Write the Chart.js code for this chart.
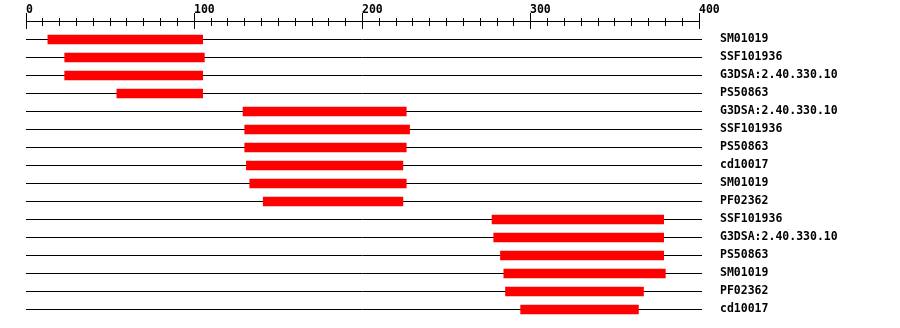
<!DOCTYPE html>
<html lang="en">
<head>
<meta charset="UTF-8">
<title>Domain map</title>
<script src="https://cdn.jsdelivr.net/npm/chart.js@4.4.7/dist/chart.umd.min.js"></script>
<style>
*{box-sizing:border-box;margin:0;padding:0}
body{background:#fff;width:900px;height:328px;overflow:hidden}
.wrap{position:relative;width:900px;height:328px}
</style>
</head>
<body>
<div class="wrap"><canvas id="chart" width="900" height="328"></canvas></div>
<script>
const domains = ['SM01019','SSF101936','G3DSA:2.40.330.10','PS50863','G3DSA:2.40.330.10','SSF101936','PS50863','cd10017','SM01019','PF02362','SSF101936','G3DSA:2.40.330.10','PS50863','SM01019','PF02362','cd10017'];
const starts = [13, 23, 23, 54, 129, 130, 130, 131, 133, 141, 277, 278, 282, 284, 285, 294];
const ends = [105, 106, 105, 105, 226, 228, 226, 224, 226, 224, 379, 379, 379, 380, 367, 364];
const rulerLabels = [0, 100, 200, 300, 400];
const rulerMinorStep = 10;

const font = "'DejaVu Sans Mono', monospace";

// ruler on top: line, minor ticks each 10, major ticks + labels each 100
const ruler = {
  id: 'ruler',
  afterDraw(chart) {
    const { ctx, scales: { x } } = chart;
    const px = v => Math.floor(x.getPixelForValue(v)) + 0.5;
    const lo = rulerLabels[0], hi = rulerLabels[rulerLabels.length - 1];
    ctx.save();
    ctx.strokeStyle = '#000';
    ctx.lineWidth = 1;
    ctx.beginPath();
    ctx.moveTo(px(lo) - 0.5, 21.5);
    ctx.lineTo(px(hi) + 0.5, 21.5);
    for (let v = lo; v <= hi; v += rulerMinorStep) {
      if (rulerLabels.includes(v)) {
        ctx.moveTo(px(v), 13); ctx.lineTo(px(v), 29);
      } else {
        ctx.moveTo(px(v), 18); ctx.lineTo(px(v), 26);
      }
    }
    ctx.stroke();
    ctx.fillStyle = '#000';
    ctx.font = 'bold 11.5px ' + font;
    ctx.textAlign = 'left';
    ctx.textBaseline = 'alphabetic';
    rulerLabels.forEach(v => ctx.fillText(String(v), px(v) - 0.5, 12.5));
    ctx.restore();
  }
};

new Chart(document.getElementById('chart'), {
  type: 'bar',
  data: {
    labels: domains,
    datasets: [{
      data: starts.map((s, i) => [s, ends[i]]),
      backgroundColor: '#ff0000',
      borderWidth: 0,
      barThickness: 9,
      borderSkipped: false,
    }]
  },
  options: {
    indexAxis: 'y',
    responsive: false,
    animation: false,
    layout: { padding: { left: 26, top: 30.5, bottom: 9.5, right: 0 } },
    plugins: { legend: { display: false }, tooltip: { enabled: false } },
    scales: {
      x: { type: 'linear', min: 0, max: 400, display: false },
      y: {
        position: 'right',
        afterFit(scale) {
          // fixed width, and no extra label padding eating the rows
          scale.width = 201;
          scale.paddingTop = 0;
          scale.paddingBottom = 0;
        },
        border: { display: false },
        grid: { offset: false, color: '#000', lineWidth: 1, drawTicks: true, tickLength: 3 },
        ticks: { color: '#000', padding: 18, font: { family: font, size: 11.5, weight: 'bold' } },
      },
    },
  },
  plugins: [ruler],
});
</script>
</body>
</html>
